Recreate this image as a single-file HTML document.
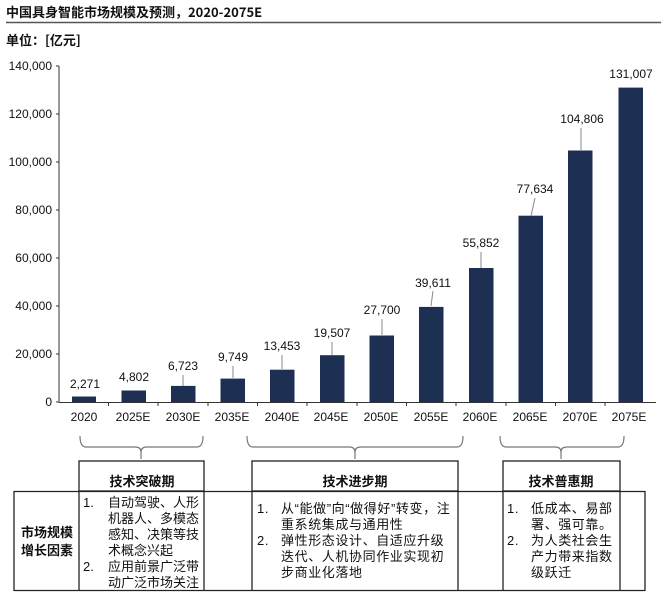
<!DOCTYPE html>
<html><head><meta charset="utf-8"><style>
html,body{margin:0;padding:0;background:#fff;}
svg{display:block;}
text{font-family:"Liberation Sans","Noto Sans CJK SC",sans-serif;fill:#111;}
.cj{font-family:"Noto Sans CJK SC","WenQuanYi Zen Hei",sans-serif;}
.ls text{letter-spacing:0.6px;}
</style></head><body>
<svg width="661" height="602" viewBox="0 0 661 602" xmlns="http://www.w3.org/2000/svg">
<text x="6" y="17" font-size="13" font-weight="bold" class="cj">中国具身智能市场规模及预测，2020-2075E</text>
<line x1="6" y1="22.5" x2="661" y2="22.5" stroke="#555" stroke-width="1.5"/>
<text x="6" y="45" font-size="13" font-weight="bold" class="cj">单位：[亿元]</text>
<g stroke="#333" stroke-width="1">
<line x1="59" y1="66" x2="59" y2="402"/>
<line x1="59" y1="402.5" x2="656" y2="402.5"/>
<line x1="56" y1="66" x2="59" y2="66"/><line x1="56" y1="114" x2="59" y2="114"/>
<line x1="56" y1="162" x2="59" y2="162"/><line x1="56" y1="210" x2="59" y2="210"/>
<line x1="56" y1="258" x2="59" y2="258"/><line x1="56" y1="306" x2="59" y2="306"/>
<line x1="56" y1="354" x2="59" y2="354"/><line x1="56" y1="402" x2="59" y2="402"/>
</g>
<g font-size="12" text-anchor="end">
<text x="52" y="70">140,000</text><text x="52" y="118">120,000</text>
<text x="52" y="166">100,000</text><text x="52" y="214">80,000</text>
<text x="52" y="262">60,000</text><text x="52" y="310">40,000</text>
<text x="52" y="358">20,000</text><text x="52" y="406">0</text>
</g>
<g stroke="#333">
<line x1="108.5" y1="402" x2="108.5" y2="406"/><line x1="158" y1="402" x2="158" y2="406"/>
<line x1="208" y1="402" x2="208" y2="406"/><line x1="257.5" y1="402" x2="257.5" y2="406"/>
<line x1="307" y1="402" x2="307" y2="406"/><line x1="357" y1="402" x2="357" y2="406"/>
<line x1="406.5" y1="402" x2="406.5" y2="406"/><line x1="456" y1="402" x2="456" y2="406"/>
<line x1="506" y1="402" x2="506" y2="406"/><line x1="555.5" y1="402" x2="555.5" y2="406"/>
<line x1="605" y1="402" x2="605" y2="406"/>
</g>
<g fill="#1d3053">
<rect x="72" y="396.5" width="24" height="5.5"/>
<rect x="121.5" y="390.5" width="24.5" height="11.5"/>
<rect x="171" y="385.9" width="24.5" height="16.1"/>
<rect x="220.5" y="378.6" width="24.5" height="23.4"/>
<rect x="270" y="369.7" width="24.5" height="32.3"/>
<rect x="320" y="355.2" width="24.5" height="46.8"/>
<rect x="369.5" y="335.5" width="24.5" height="66.5"/>
<rect x="419" y="306.9" width="24.5" height="95.1"/>
<rect x="469" y="268" width="24.5" height="134"/>
<rect x="518.5" y="215.7" width="24.5" height="186.3"/>
<rect x="568" y="150.5" width="24.5" height="251.5"/>
<rect x="618.5" y="87.6" width="24.5" height="314.4"/>
</g>
<g stroke="#888" stroke-width="1">
<line x1="183" y1="386" x2="183" y2="375"/>
<line x1="233" y1="378" x2="233" y2="366"/>
<line x1="282" y1="369" x2="282" y2="355"/>
<line x1="332" y1="355" x2="332" y2="342"/>
<line x1="382" y1="335" x2="382" y2="319"/>
<line x1="431" y1="306" x2="433" y2="291"/>
<line x1="481" y1="268" x2="481" y2="252"/>
<line x1="531" y1="216" x2="535" y2="198"/>
<line x1="581" y1="150" x2="581" y2="128"/>
</g>
<g font-size="12" text-anchor="middle">
<text x="85" y="388">2,271</text><text x="134" y="381">4,802</text>
<text x="183" y="370">6,723</text><text x="233" y="361">9,749</text>
<text x="282" y="350">13,453</text><text x="332" y="337">19,507</text>
<text x="382" y="314">27,700</text><text x="433" y="287">39,611</text>
<text x="481" y="247">55,852</text><text x="535" y="193">77,634</text>
<text x="582" y="123">104,806</text><text x="631" y="78">131,007</text>
</g>
<g font-size="12" text-anchor="middle">
<text x="84" y="421">2020</text><text x="133" y="421">2025E</text>
<text x="183" y="421">2030E</text><text x="232" y="421">2035E</text>
<text x="282" y="421">2040E</text><text x="331" y="421">2045E</text>
<text x="381" y="421">2050E</text><text x="431" y="421">2055E</text>
<text x="480" y="421">2060E</text><text x="530" y="421">2065E</text>
<text x="580" y="421">2070E</text><text x="629" y="421">2075E</text>
</g>
<g fill="none" stroke="#777" stroke-width="1.2">
<path d="M80 436 Q80 447 86 447 L135 447 Q141 447 141 452 Q141 447 147 447 L197 447 Q203 447 203 436"/>
<line x1="141" y1="452" x2="141" y2="459"/>
<path d="M247 436 Q247 447 253 447 L349 447 Q355 447 355 452 Q355 447 361 447 L457 447 Q463 447 463 436"/>
<line x1="355" y1="452" x2="355" y2="459"/>
<path d="M500 436 Q500 447 506 447 L555 447 Q561 447 561 452 Q561 447 567 447 L618 447 Q624 447 624 436"/>
<line x1="561" y1="452" x2="561" y2="459"/>
</g>
<g fill="none" stroke="#222" stroke-width="1.3">
<rect x="79" y="461" width="125" height="30"/>
<rect x="252" y="461" width="206" height="30"/>
<rect x="503" y="461" width="117" height="30"/>
<line x1="14" y1="491.5" x2="645" y2="491.5"/>
<line x1="14" y1="590.5" x2="645" y2="590.5"/>
<line x1="14" y1="491" x2="14" y2="591"/><line x1="79" y1="491" x2="79" y2="591"/>
<line x1="204" y1="491" x2="204" y2="591"/><line x1="252" y1="491" x2="252" y2="591"/>
<line x1="458" y1="491" x2="458" y2="591"/><line x1="503" y1="491" x2="503" y2="591"/>
<line x1="620" y1="491" x2="620" y2="591"/><line x1="645" y1="491" x2="645" y2="591"/>
</g>
<g font-size="13" font-weight="bold" text-anchor="middle" class="cj">
<text x="142" y="486">技术突破期</text>
<text x="355" y="486">技术进步期</text>
<text x="561" y="486">技术普惠期</text>
<text x="47" y="537">市场规模</text>
<text x="47" y="555">增长因素</text>
</g>
<g font-size="13" class="cj" fill="#222">
<text x="83" y="507">1.</text>
<text x="108" y="507">自动驾驶、人形</text>
<text x="108" y="523">机器人、多模态</text>
<text x="108" y="539">感知、决策等技</text>
<text x="108" y="555">术概念兴起</text>
<text x="83" y="571">2.</text>
<text x="108" y="571">应用前景广泛带</text>
<text x="108" y="587">动广泛市场关注</text>
</g>
<g font-size="13" class="cj ls" fill="#222">
<text x="257" y="513">1.</text>
<text x="281" y="513">从“能做”向“做得好”转变，注</text>
<text x="281" y="529">重系统集成与通用性</text>
<text x="257" y="545">2.</text>
<text x="281" y="545">弹性形态设计、自适应升级</text>
<text x="281" y="561">迭代、人机协同作业实现初</text>
<text x="281" y="577">步商业化落地</text>

<text x="507" y="513">1.</text>
<text x="531" y="513">低成本、易部</text>
<text x="531" y="529">署、强可靠。</text>
<text x="507" y="545">2.</text>
<text x="531" y="545">为人类社会生</text>
<text x="531" y="561">产力带来指数</text>
<text x="531" y="577">级跃迁</text>
</g>
</svg>
</body></html>
